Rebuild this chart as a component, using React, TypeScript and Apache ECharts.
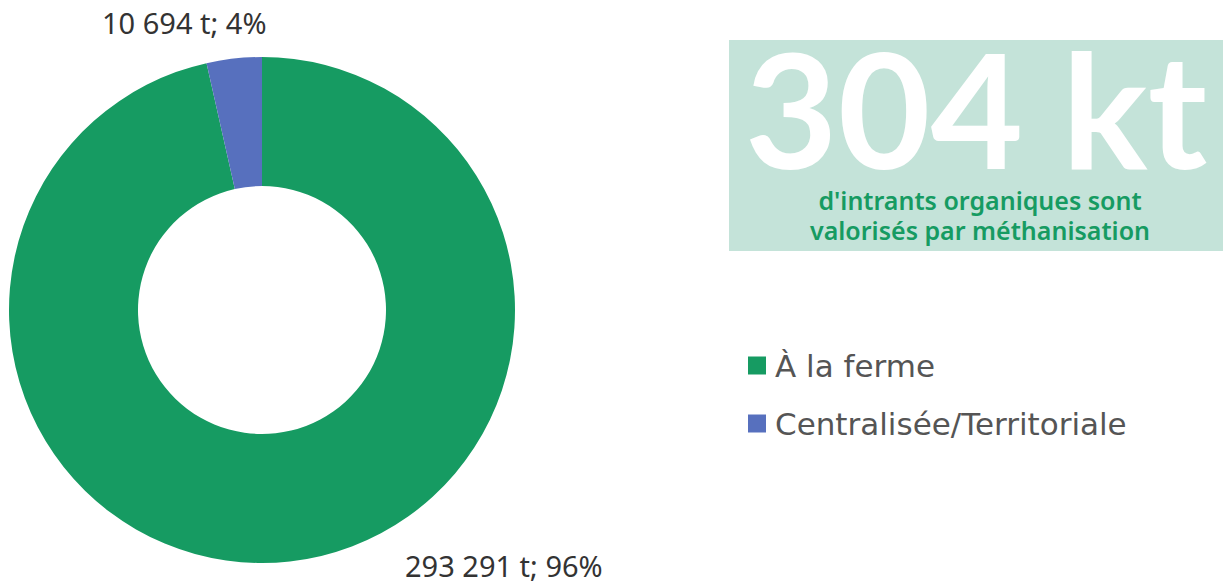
import React, { useEffect, useRef } from "react";
import * as echarts from "echarts";

const categories = ["À la ferme", "Centralisée/Territoriale"];
const tonnages = [293291, 10694];
const percents = [96, 4];
const colors = ["#169B62", "#5770BE"];
const headline = "304 kt";
const subtitle = ["d'intrants organiques sont", "valorisés par méthanisation"];

const fmt = (v: number) => String(v).replace(/\B(?=(\d{3})+(?!\d))/g, " ");

export default function App() {
  const ref = useRef<HTMLDivElement>(null);
  useEffect(() => {
    if (!ref.current) return;
    const chart = echarts.init(ref.current, undefined, { renderer: "svg" });
    const labelPos = [
      { x: 405, y: 565, align: "left" },
      { x: 102, y: 22, align: "left" },
    ];
    chart.setOption({
      animation: false,
      textStyle: { fontFamily: "Noto Sans" },
      legend: {
        orient: "vertical",
        left: 743,
        top: 345,
        itemWidth: 18,
        itemHeight: 18,
        itemGap: 27,
        icon: "rect",
        textStyle: { fontSize: 31, color: "#555555", fontFamily: "DejaVu Sans", padding: [0, 0, 0, 4] },
        data: categories,
      },
      graphic: [
        {
          type: "rect",
          shape: { x: 729, y: 40, width: 494, height: 211 },
          style: { fill: "#C4E3D9" },
          z: 0,
        },
        {
          type: "text",
          x: 976,
          y: 107,
          style: {
            text: headline,
            fill: "#ffffff",
            font: "bold 160px Lato",
            lineHeight: 110,
            textAlign: "center",
            textVerticalAlign: "middle",
          },
          z: 1,
        },
        {
          type: "text",
          x: 980,
          y: 215,
          style: {
            text: subtitle.join("\n"),
            fill: "#169B62",
            font: "600 25px 'Noto Sans'",
            lineHeight: 30,
            textAlign: "center",
            textVerticalAlign: "middle",
          },
          z: 1,
        },
      ],
      series: [
        {
          type: "pie",
          center: [262, 310],
          radius: [124, 253],
          startAngle: 90,
          clockwise: true,
          itemStyle: { borderWidth: 0 },
          emphasis: { disabled: true },
          label: {
            show: true,
            position: "outside",
            fontSize: 29,
            color: "#333333",
            fontFamily: "Noto Sans",
            formatter: (p: any) => `${fmt(tonnages[p.dataIndex])} t; ${percents[p.dataIndex]}%`,
          },
          labelLine: { show: false },
          labelLayout: (p: any) => ({
            x: labelPos[p.dataIndex].x,
            y: labelPos[p.dataIndex].y,
            align: labelPos[p.dataIndex].align,
            verticalAlign: "middle",
          }),
          data: categories.map((c, i) => ({
            name: c,
            value: tonnages[i],
            itemStyle: { color: colors[i] },
          })),
        },
      ],
    });
    return () => chart.dispose();
  }, []);
  return (
    <div
      ref={ref}
      style={{ position: "fixed", left: 0, top: 0, width: 1223, height: 583, background: "#fff" }}
    />
  );
}
